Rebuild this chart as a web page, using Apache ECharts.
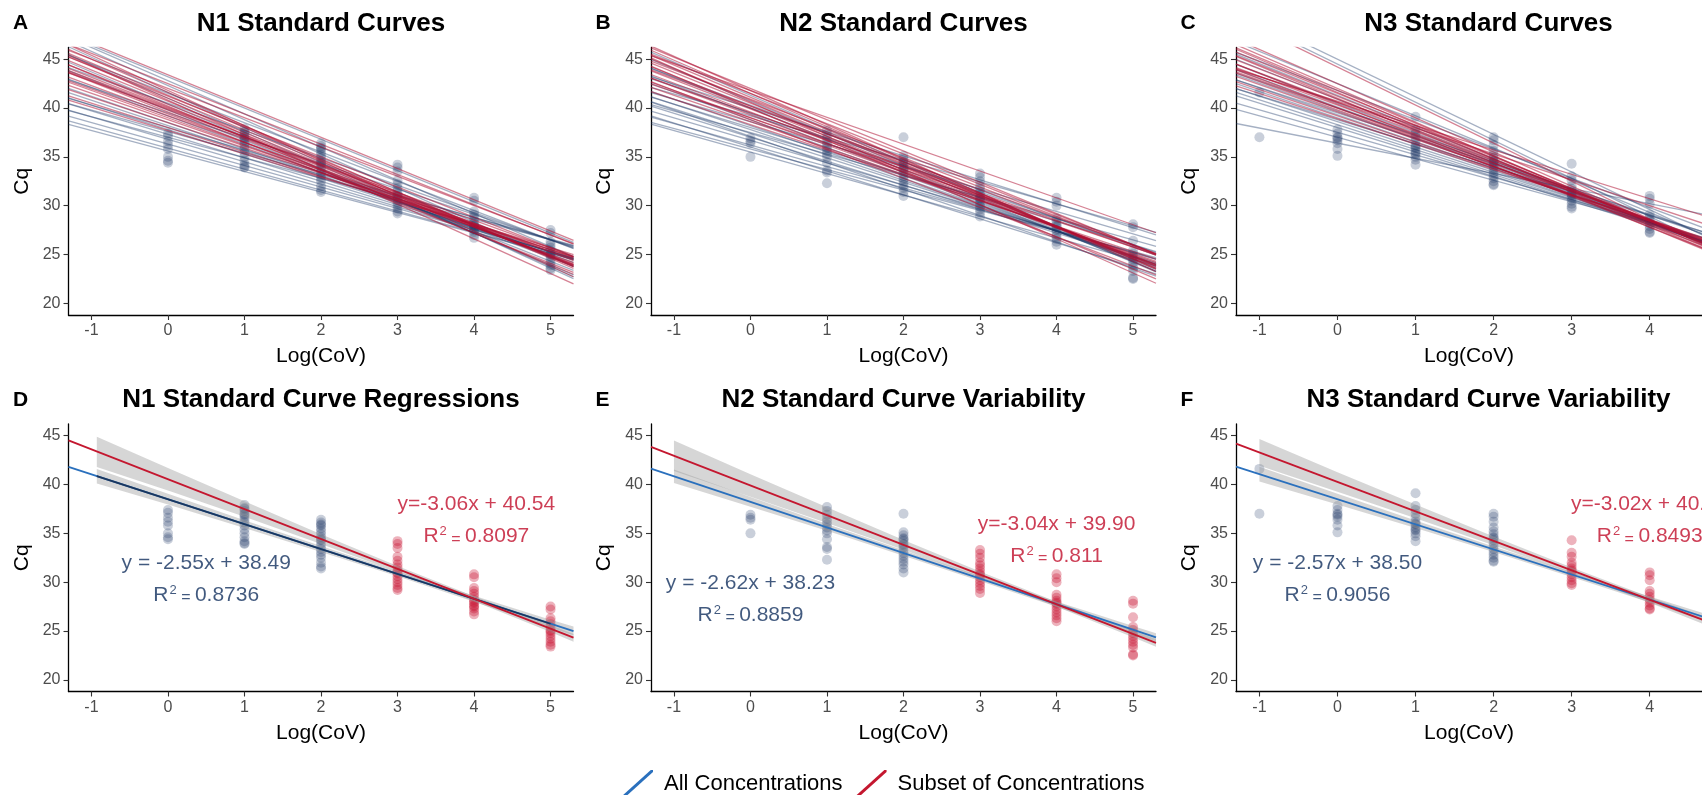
<!DOCTYPE html>
<html><head><meta charset="utf-8">
<script src="https://cdn.jsdelivr.net/npm/echarts@6/dist/echarts.min.js"></script>
<style>html,body{margin:0;padding:0;background:#fff}#c{width:1702px;height:795px}</style>
</head><body><div id="c"></div>
<script>
// ---------------- DATA ----------------
const xTicks = [-1, 0, 1, 2, 3, 4, 5];
const yTicks = [20, 25, 30, 35, 40, 45];
const panelTitles = ['N1 Standard Curves', 'N2 Standard Curves', 'N3 Standard Curves',
  'N1 Standard Curve Regressions', 'N2 Standard Curve Variability', 'N3 Standard Curve Variability'];
const panelLetters = ['A', 'B', 'C', 'D', 'E', 'F'];
const legendNames = ['All Concentrations', 'Subset of Concentrations'];

// observed Cq values per log concentration level
const n1Levels = [0, 1, 2, 3, 4, 5];
const n1Cq = [
  [37.4, 37.1, 36.6, 36.2, 35.8, 35.0, 34.6, 34.4],
  [37.9, 37.6, 37.3, 37.0, 36.7, 36.4, 36.1, 35.8, 35.4, 35.0, 34.6, 34.2, 34.0, 33.9, 36.9, 37.5],
  [36.4, 36.1, 35.8, 35.5, 35.2, 34.9, 34.6, 34.3, 34.0, 33.7, 33.4, 33.1, 32.8, 32.5, 32.0, 31.6, 31.4, 35.9, 34.4],
  [34.2, 33.9, 33.5, 32.6, 32.2, 31.8, 31.5, 31.2, 30.9, 30.6, 30.3, 30.0, 29.7, 29.4, 29.2, 31.0],
  [30.8, 30.5, 29.4, 29.1, 28.8, 28.5, 28.2, 27.9, 27.6, 27.3, 27.0, 26.7, 28.0, 27.5],
  [27.5, 27.2, 26.3, 26.0, 25.7, 25.4, 25.1, 24.8, 24.5, 24.2, 23.9, 23.6, 23.4, 25.0]
];
const n2Levels = [0, 1, 2, 3, 4, 5];
const n2Cq = [
  [36.9, 36.6, 36.4, 35.0],
  [37.7, 37.3, 36.9, 36.5, 36.2, 35.9, 35.6, 35.3, 35.0, 34.4, 33.6, 33.4, 32.3],
  [37.0, 35.1, 34.8, 34.5, 34.2, 33.9, 33.6, 33.3, 33.0, 32.7, 32.4, 32.1, 31.8, 31.4, 31.0, 34.4, 33.8],
  [33.3, 32.9, 32.5, 32.0, 31.7, 31.4, 31.1, 30.8, 30.5, 30.2, 29.9, 29.6, 29.3, 28.9, 30.7],
  [30.8, 30.4, 30.0, 28.7, 28.4, 28.1, 27.8, 27.5, 27.2, 26.9, 26.6, 26.3, 26.0, 27.9],
  [28.1, 27.8, 26.4, 25.4, 25.1, 24.8, 24.5, 24.2, 23.9, 23.6, 23.3, 22.6, 22.5]
];
const n3Levels = [-1, 0, 1, 2, 3, 4];
const n3Cq = [
  [41.6, 37.0],
  [37.8, 37.4, 37.0, 36.7, 36.4, 35.8, 35.1, 36.9],
  [39.1, 37.8, 37.4, 37.0, 36.6, 36.2, 35.9, 35.6, 35.3, 35.0, 34.7, 34.2, 36.0, 35.4],
  [37.0, 36.7, 36.2, 35.6, 35.2, 34.9, 34.6, 34.3, 34.0, 33.7, 33.4, 33.1, 32.8, 32.5, 32.2, 32.1, 34.5],
  [34.3, 33.0, 32.6, 32.0, 31.7, 31.4, 31.1, 30.8, 30.5, 30.2, 29.9, 29.7, 31.2],
  [31.0, 30.7, 30.2, 29.1, 28.8, 28.5, 28.2, 27.9, 27.6, 27.3, 27.2]
];
const subsetStartLevel = 3; // levels >= 3 are the "subset" (red) in D-F

const n1BlueSlope = [-2.1, -2.15, -2.2, -2.3, -2.4, -2.5, -2.6, -2.7, -2.9, -3.1, -3.3, -3.45, -3.6, -3.5, -3.4, -2.1, -2.3, -2.6, -2.8, -3.0, -3.2, -2.2];
const n1BlueInt   = [35.6, 35.9, 36.3, 36.8, 37.3, 37.8, 38.2, 38.5, 39.2, 39.8, 40.4, 41.0, 41.6, 42.3, 42.8, 37.0, 38.0, 39.5, 40.5, 41.5, 43.2, 37.6];
const n1RedSlope  = [-2.8, -2.9, -3.0, -3.05, -3.1, -3.2, -3.25, -3.3, -3.4, -2.95, -2.75, -2.6, -2.5, -2.4, -3.1, -3.2, -3.0, -3.55, -3.6, -3.1, -3.25, -2.7, -2.85, -3.1];
const n1RedInt    = [39.0, 39.4, 39.8, 40.1, 40.4, 40.7, 41.0, 41.3, 41.6, 40.0, 39.2, 38.5, 38.0, 37.7, 42.5, 43.4, 42.0, 40.8, 41.8, 39.6, 40.2, 38.8, 39.9, 41.2];
const n2BlueSlope = [-2.2, -2.1, -2.2, -2.3, -2.45, -2.5, -2.6, -2.7, -2.85, -3.0, -3.15, -3.3, -3.4, -2.3, -2.25, -2.45, -2.2, -2.4, -2.7, -2.9, -2.45, -2.7];
const n2BlueInt   = [35.5, 35.8, 36.2, 36.7, 37.0, 37.4, 37.8, 38.2, 38.8, 39.4, 40.0, 40.7, 41.3, 38.6, 39.2, 40.0, 37.5, 38.0, 39.5, 40.3, 36.0, 37.1];
const n2RedSlope  = [-2.7, -2.8, -2.9, -2.95, -3.0, -3.1, -3.15, -3.25, -3.3, -3.4, -3.5, -3.3, -3.5, -3.1, -3.2, -2.75, -2.6, -2.65, -2.75, -2.85, -3.0, -3.0];
const n2RedInt    = [38.6, 39.0, 39.3, 39.6, 39.9, 40.2, 40.5, 40.8, 41.1, 41.5, 41.8, 40.0, 40.6, 41.5, 42.0, 41.8, 38.3, 39.0, 39.5, 40.2, 40.9, 38.8];
const n3BlueSlope = [-1.55, -2.5, -2.55, -2.6, -2.7, -2.75, -2.85, -2.95, -3.05, -3.15, -3.25, -2.3, -2.2, -3.3, -3.9, -3.85, -2.6, -2.75, -2.45, -3.0];
const n3BlueInt   = [36.4, 38.0, 38.3, 38.6, 39.0, 39.3, 39.7, 40.1, 40.5, 40.9, 41.3, 37.5, 37.0, 42.5, 44.5, 45.0, 39.5, 40.0, 38.8, 41.8];
const n3RedSlope  = [-2.85, -2.95, -3.0, -3.1, -3.2, -3.25, -3.35, -2.8, -2.7, -2.6, -3.5, -3.9, -2.5, -2.65, -3.0, -3.3, -3.4, -2.9, -3.45, -3.15];
const n3RedInt    = [40.0, 40.3, 40.6, 40.9, 41.2, 41.5, 41.8, 39.6, 39.2, 38.9, 42.5, 44.2, 40.7, 40.6, 40.0, 41.0, 41.6, 39.8, 42.0, 40.4];

// pooled regressions (panels D-F): [all concentrations, subset]
const regSlopeAll = [-2.55, -2.62, -2.57];
const regIntAll   = [38.49, 38.23, 38.50];
const regSlopeSub = [-3.06, -3.04, -3.02];
const regIntSub   = [40.54, 39.90, 40.27];
const r2All = ['0.8736', '0.8859', '0.9056'];
const r2Sub = ['0.8097', '0.811', '0.8493'];

// confidence bands (read at these x positions)
const bandX = [[-0.93, 0, 1, 2, 3, 4, 5, 5.3], [-1, 0, 1, 2, 3, 4, 5, 5.3], [-1, 0, 1, 2, 3, 4, 5, 5.3]];
const bandSubHi = [[44.9, 41.7, 38.3, 34.9, 31.65, 28.55, 25.6, 24.7], [44.5, 41.05, 37.66, 34.32, 31.08, 27.99, 25.05, 24.19], [44.66, 41.27, 37.95, 34.68, 31.51, 28.49, 25.62, 24.76]];
const bandSubLo = [[41.8, 39.4, 36.7, 33.9, 31.05, 28.05, 24.9, 23.9], [41.38, 38.75, 36.06, 33.32, 30.48, 27.49, 24.35, 23.39], [41.92, 39.27, 36.55, 33.78, 30.91, 27.89, 24.72, 23.76]];
const bandAllHi = [[41.6, 39.05, 36.35, 33.7, 31.1, 28.6, 26.15, 25.45], [41.55, 38.73, 35.96, 33.27, 30.62, 28.03, 25.51, 24.76], [41.82, 39.05, 36.31, 33.64, 31.04, 28.52, 26.07, 25.35]];
const bandAllLo = [[40.1, 37.95, 35.55, 33.1, 30.6, 28.0, 25.35, 24.55], [40.15, 37.73, 35.26, 32.71, 30.12, 27.47, 24.75, 23.92], [40.32, 37.95, 35.55, 33.08, 30.54, 27.92, 25.23, 24.41]];
// annotation anchors [x, y of equation, y of R2]
const annAll = [[0.5, 31.9, 28.7], [0.0, 29.9, 26.65], [0.0, 31.9, 28.7]];
const annSub = [[4.03, 38.0, 34.7], [4.0, 35.9, 32.7], [4.0, 38.0, 34.7]];

// ---------------- STYLE / LAYOUT ----------------
const FONT = '"Liberation Sans", Arial, Helvetica, sans-serif';
const X_MIN = -1.3, Y_MIN = 18.8, Y_MAX = 46.2, X_END = 5.3;
const colXMax = [5.3, 5.3, 4.67];          // third column is cut off at the figure edge
const colLeft = [68.5, 651, 1236], colWidth = [505, 505, 466];
const rowTop = [47.5, 424], GH = 267.5;
const BLUE_PT = 'rgba(31,58,104,0.3)', RED_PT = 'rgba(200,16,46,0.4)';
const BLUE_LN = 'rgba(31,58,104,0.4)', RED_LN = 'rgba(175,15,50,0.52)';
const ALL_COL = '#2a70bd', SUB_COL = '#c4172f', NAVY = '#1b365d';
const BLUE_TXT = '#122f5e', RED_TXT = '#c00f2c';

const levelsArr = [n1Levels, n2Levels, n3Levels];
const cqArr = [n1Cq, n2Cq, n3Cq];
const curveSets = [
  [n1BlueSlope, n1BlueInt, n1RedSlope, n1RedInt],
  [n2BlueSlope, n2BlueInt, n2RedSlope, n2RedInt],
  [n3BlueSlope, n3BlueInt, n3RedSlope, n3RedInt]
];

const grids = [], xAxes = [], yAxes = [], series = [], graphics = [];

function lineSeries(gi, m, b, x0, x1, color, width, z, name) {
  return {
    type: 'line', name: name, xAxisIndex: gi, yAxisIndex: gi,
    data: [[x0, b + m * x0], [x1, b + m * x1]],
    symbol: 'none', showSymbol: false, clip: true, silent: true, z: z,
    lineStyle: { color: color, width: width }, itemStyle: { color: color }, color: color,
    emphasis: { disabled: true }
  };
}
function pointSeries(gi, pts, color) {
  return {
    type: 'scatter', xAxisIndex: gi, yAxisIndex: gi, data: pts, symbolSize: 10, silent: true, z: 2,
    itemStyle: { color: color, borderWidth: 0 }, emphasis: { disabled: true }
  };
}
function bandSeries(gi, xs, lo, hi) {
  return {
    type: 'custom', xAxisIndex: gi, yAxisIndex: gi, silent: true, clip: true, z: 3,
    data: xs.map((x, i) => [x, lo[i], hi[i]]),
    encode: { x: 0, y: [1, 2] },
    renderItem: function (params, api) {
      if (params.dataIndex !== 0) return null;
      const pts = [];
      for (let i = 0; i < xs.length; i++) pts.push(api.coord([xs[i], hi[i]]));
      for (let i = xs.length - 1; i >= 0; i--) pts.push(api.coord([xs[i], lo[i]]));
      return { type: 'polygon', shape: { points: pts }, style: { fill: 'rgba(153,153,153,0.4)' } };
    }
  };
}
function textSeries(gi, x, y, formatter, rich) {
  return {
    type: 'scatter', xAxisIndex: gi, yAxisIndex: gi, data: [[x, y]], symbolSize: 0, silent: true, z: 10,
    itemStyle: { color: 'transparent' },
    label: { show: true, position: 'inside', formatter: formatter, rich: rich },
    emphasis: { disabled: true }
  };
}
function richFor(color) {
  return {
    t: { fontFamily: FONT, fontSize: 21, color: color },
    s: { fontFamily: FONT, fontSize: 13, color: color, verticalAlign: 'top', padding: [0, 0, 8, 1] },
    e: { fontFamily: FONT, fontSize: 16, color: color, padding: [6, 0, 0, 0] }
  };
}
const fmtLine = (m, b) => (m < 0 ? '-' + Math.abs(m).toFixed(2) : m.toFixed(2)) + 'x + ' + b.toFixed(2);

for (let r = 0; r < 2; r++) {
  for (let c = 0; c < 3; c++) {
    const gi = r * 3 + c;
    grids.push({ left: colLeft[c], top: rowTop[r], width: colWidth[c], height: GH });
    xAxes.push({
      gridIndex: gi, type: 'value', min: X_MIN, max: colXMax[c],
      name: 'Log(CoV)', nameLocation: 'middle', nameGap: 31,
      nameTextStyle: { fontFamily: FONT, fontSize: 21, color: '#000' },
      axisLine: { show: true, onZero: false, lineStyle: { color: '#000', width: 1.3 } },
      axisTick: { show: true, length: 5, customValues: xTicks.filter(v => v <= colXMax[c]), lineStyle: { color: '#333', width: 1.1 } },
      axisLabel: { customValues: xTicks.filter(v => v <= colXMax[c]), fontFamily: FONT, fontSize: 16, color: '#4d4d4d', margin: 8 },
      splitLine: { show: false }
    });
    yAxes.push({
      gridIndex: gi, type: 'value', min: Y_MIN, max: Y_MAX,
      name: 'Cq', nameLocation: 'middle', nameGap: 36,
      nameTextStyle: { fontFamily: FONT, fontSize: 21, color: '#000' },
      axisLine: { show: true, onZero: false, lineStyle: { color: '#000', width: 1.3 } },
      axisTick: { show: true, length: 5, customValues: yTicks, lineStyle: { color: '#333', width: 1.1 } },
      axisLabel: { customValues: yTicks, fontFamily: FONT, fontSize: 16, color: '#4d4d4d', margin: 8 },
      splitLine: { show: false }
    });

    const levels = levelsArr[c], cq = cqArr[c];
    const bluePts = [], redPts = [];
    levels.forEach((lv, i) => cq[i].forEach(v => {
      if (r === 1 && lv >= subsetStartLevel) redPts.push([lv, v]); else bluePts.push([lv, v]);
    }));
    series.push(pointSeries(gi, bluePts, BLUE_PT));
    if (redPts.length) series.push(pointSeries(gi, redPts, RED_PT));

    if (r === 0) {
      const [bs, bi, rs, ri] = curveSets[c];
      bs.forEach((m, i) => series.push(lineSeries(gi, m, bi[i], X_MIN, X_END, BLUE_LN, 1.3, 4)));
      rs.forEach((m, i) => series.push(lineSeries(gi, m, ri[i], X_MIN, X_END, RED_LN, 1.3, 5)));
    } else {
      series.push(bandSeries(gi, bandX[c], bandSubLo[c], bandSubHi[c]));
      series.push(bandSeries(gi, bandX[c], bandAllLo[c], bandAllHi[c]));
      series.push(lineSeries(gi, regSlopeAll[c], regIntAll[c], X_MIN, X_END, ALL_COL, 1.8, 6, legendNames[0]));
      if (c === 0) series.push(lineSeries(gi, regSlopeAll[c], regIntAll[c], bandX[c][0], 5, NAVY, 1.8, 7));
      series.push(lineSeries(gi, regSlopeSub[c], regIntSub[c], X_MIN, X_END, SUB_COL, 1.8, 8, legendNames[1]));
      series.push(textSeries(gi, annAll[c][0], annAll[c][1], '{t|y = ' + fmtLine(regSlopeAll[c], regIntAll[c]) + '}', richFor(BLUE_TXT)));
      series.push(textSeries(gi, annAll[c][0], annAll[c][2], '{t|R}{s|2}{e| = }{t|' + r2All[c] + '}', richFor(BLUE_TXT)));
      series.push(textSeries(gi, annSub[c][0], annSub[c][1], '{t|y=' + fmtLine(regSlopeSub[c], regIntSub[c]) + '}', richFor(RED_TXT)));
      series.push(textSeries(gi, annSub[c][0], annSub[c][2], '{t|R}{s|2}{e| = }{t|' + r2Sub[c] + '}', richFor(RED_TXT)));
    }

    const centre = colLeft[c] + 252.5; // panel centre (panel width 505 before the figure edge cut)
    graphics.push({
      type: 'text', x: centre, y: rowTop[r] - 24, silent: true,
      style: { text: panelTitles[gi], font: 'bold 26px ' + FONT, fill: '#000', textAlign: 'center', textVerticalAlign: 'middle' }
    });
    graphics.push({
      type: 'text', x: colLeft[c] - 55.5, y: rowTop[r] - 24, silent: true,
      style: { text: panelLetters[gi], font: 'bold 21px ' + FONT, fill: '#000', textAlign: 'left', textVerticalAlign: 'middle' }
    });
  }
}

const diagIcon = 'path://M0,28 L2.2,28 L31,2 L31,0 L28.8,0 L0,26 Z';
const chart = echarts.init(document.getElementById('c'), null, { renderer: 'canvas', width: 1702, height: 795 });
chart.setOption({
  animation: false,
  backgroundColor: '#fff',
  grid: grids, xAxis: xAxes, yAxis: yAxes, series: series,
  graphic: graphics,
  legend: {
    left: 617, top: 765, orient: 'horizontal', selectedMode: false,
    itemWidth: 31, itemHeight: 28, itemGap: 13, symbolKeepAspect: false,
    data: [{ name: legendNames[0], icon: diagIcon }, { name: legendNames[1], icon: diagIcon }],
    textStyle: { fontFamily: FONT, fontSize: 22, color: '#000', padding: [0, 0, 0, 6] }
  }
});
</script></body></html>
